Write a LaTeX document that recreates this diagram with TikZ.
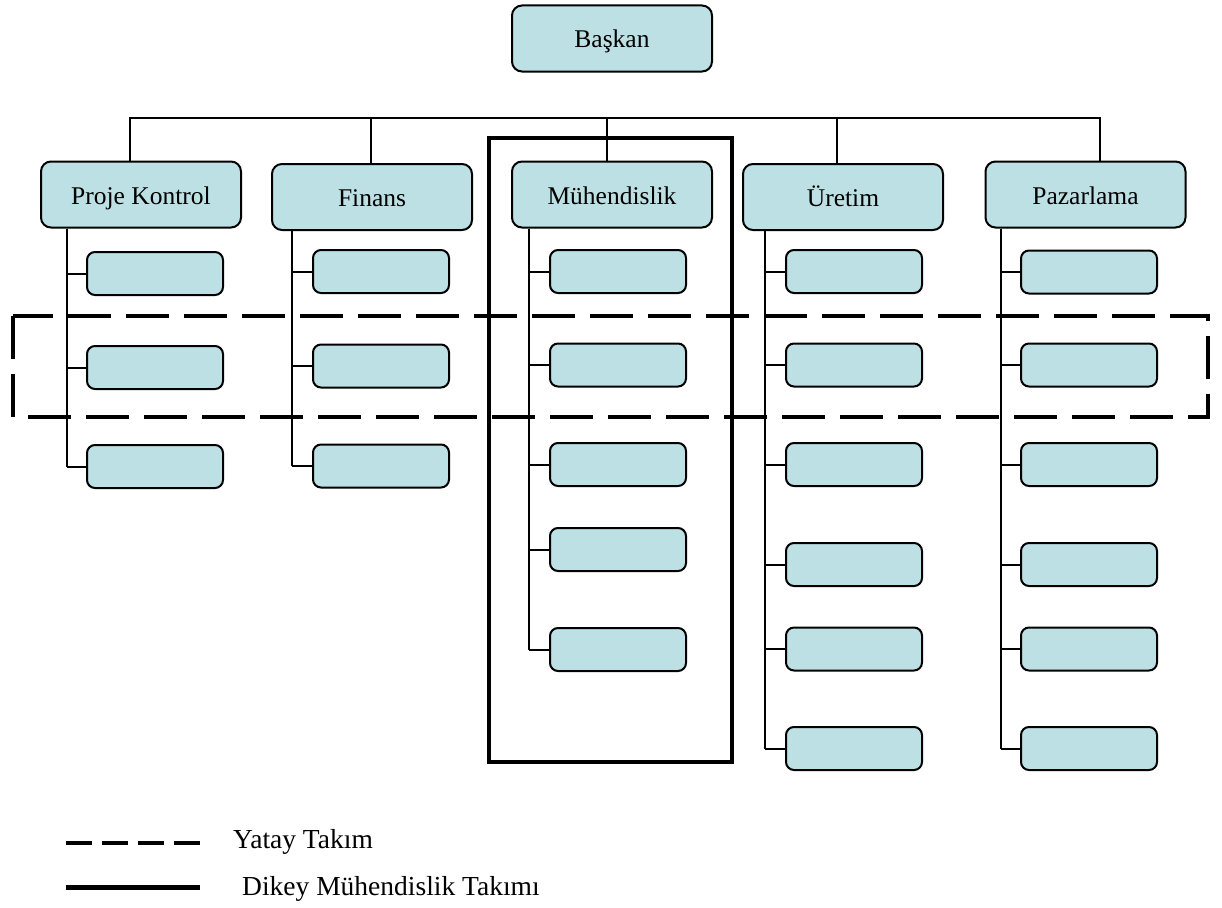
\documentclass[tikz,border=0pt]{standalone}
\usepackage{fontspec}
\setmainfont{Liberation Serif}
\definecolor{boxfill}{HTML}{BCE0E3}
\tikzset{
  unit/.style={draw=black, fill=boxfill, line width=2pt, inner sep=0pt},
  headbox/.style={unit, rounded corners=10pt, minimum width=200pt, minimum height=66pt,
                  text height=19pt, text depth=0pt,
                  font=\fontsize{25.5}{30}\selectfont},
  subbox/.style={unit, rounded corners=8pt, minimum width=136pt, minimum height=43pt},
  link/.style={draw=black, line width=2pt},
  teamline/.style={draw=black, line width=4pt},
  crossteam/.style={draw=black, line width=4pt, dash pattern=on 43pt off 15pt},
  legendtext/.style={anchor=base west, inner sep=0pt, font=\fontsize{27.5}{32}\selectfont}
}
\begin{document}
\begin{tikzpicture}[x=1pt, y=-1pt]
\useasboundingbox (0,0) rectangle (1222,907);

% top of the hierarchy
\node[headbox] (boss) at (612,38.5) {Başkan};

% department heads
\node[headbox] (proj) at (141,194.5) {Proje Kontrol};
\node[headbox] (fin)  at (372,197)   {Finans};
\node[headbox] (eng)  at (612,194.5) {Mühendislik};
\node[headbox] (prod) at (843,197)   {Üretim};
\node[headbox] (mkt)  at (1085.5,194.5) {Pazarlama};

% bus and drops to department heads
\coordinate (busL) at (130,118);
\coordinate (busR) at (1100,118);
\draw[link] (busL |- proj.north) -- (busL) -- (busR) -- (busR |- mkt.north);
\coordinate (tapF) at (371,118);
\coordinate (tapE) at (607,118);
\coordinate (tapP) at (837,118);
\draw[link] (tapF) -- (tapF |- fin.north);
\draw[link] (tapE) -- (tapE |- eng.north);
\draw[link] (tapP) -- (tapP |- prod.north);

% sub-units, one column per department
% Proje Kontrol
\foreach \i/\y in {1/273.5, 2/367.5, 3/466.5} {
  \node[subbox] (proj\i) at (155,\y) {};
}
\coordinate (projrail) at (67,0);
\draw[link] (projrail |- proj.south) -- (projrail |- proj3.west);
\foreach \i in {1,2,3} { \draw[link] (projrail |- proj\i.west) -- (proj\i.west); }

% Finans
\foreach \i/\y in {1/271.5, 2/366, 3/466} {
  \node[subbox] (fin\i) at (381,\y) {};
}
\coordinate (finrail) at (292,0);
\draw[link] (finrail |- fin.south) -- (finrail |- fin3.west);
\foreach \i in {1,2,3} { \draw[link] (finrail |- fin\i.west) -- (fin\i.west); }

% Mühendislik
\foreach \i/\y in {1/271.5, 2/365, 3/464.5, 4/549.5, 5/649.5} {
  \node[subbox] (eng\i) at (618,\y) {};
}
\coordinate (engrail) at (529,0);
\draw[link] (engrail |- eng.south) -- (engrail |- eng5.west);
\foreach \i in {1,...,5} { \draw[link] (engrail |- eng\i.west) -- (eng\i.west); }

% Üretim
\foreach \i/\y in {1/271.5, 2/365, 3/464.5, 4/564.5, 5/649, 6/748.5} {
  \node[subbox] (prod\i) at (854,\y) {};
}
\coordinate (prodrail) at (765,0);
\draw[link] (prodrail |- prod.south) -- (prodrail |- prod6.west);
\foreach \i in {1,...,6} { \draw[link] (prodrail |- prod\i.west) -- (prod\i.west); }

% Pazarlama
\foreach \i/\y in {1/272, 2/365, 3/464.5, 4/564.5, 5/649, 6/748.5} {
  \node[subbox] (mkt\i) at (1089,\y) {};
}
\coordinate (mktrail) at (1001,0);
\draw[link] (mktrail |- mkt.south) -- (mktrail |- mkt6.west);
\foreach \i in {1,...,6} { \draw[link] (mktrail |- mkt\i.west) -- (mkt\i.west); }

% vertical engineering team
\draw[teamline] (489,138) rectangle (732,762);

% horizontal cross-functional team
\draw[crossteam] (13,316) rectangle (1208,417);

% legend
\coordinate (lgA1) at (66,843);
\coordinate (lgA2) at (200,843);
\coordinate (lgB1) at (66,887);
\coordinate (lgB2) at (200,887);
\draw[draw=black, line width=4pt, dash pattern=on 26pt off 10pt] (lgA1) -- (lgA2);
\draw[draw=black, line width=5pt] (lgB1) -- (lgB2);
\node[legendtext] (lgAtext) at (233,848) {Yatay Takım};
\node[legendtext] (lgBtext) at (242,895) {Dikey Mühendislik Takımı};
\end{tikzpicture}
\end{document}
